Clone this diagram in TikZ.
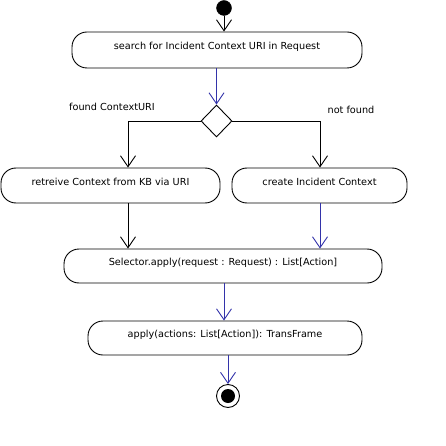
\documentclass[tikz,border=0pt]{standalone}
\usepackage{fontspec}
\setmainfont{DejaVu Sans}
\usetikzlibrary{arrows.meta, shapes.geometric}

\definecolor{flowblue}{RGB}{51,51,170}

\tikzset{
    activity/.style={draw, line width=0.9pt, rounded corners=15pt, align=center,
        font=\fontsize{9.7}{11}\selectfont, text depth=8pt, inner sep=0pt},
    decision/.style={draw, line width=0.9pt, diamond, minimum width=31pt,
        minimum height=32pt, inner sep=0pt},
    flow/.style={line width=0.9pt, -{Straight Barb[length=11pt, width=15pt]}},
    guard/.style={font=\fontsize{9.7}{11}\selectfont}
}

\begin{document}
\begin{tikzpicture}[x=1pt, y=-1pt]
    \useasboundingbox (0,0) rectangle (445,446);

    % Start / end
    \node[circle, fill=black, draw, minimum size=15pt, inner sep=0pt] (start) at (224,8) {};
    \node[circle, draw, line width=0.9pt, minimum size=23pt, inner sep=0pt] (end) at (228,396) {};
    \fill (end) circle (7pt);

    % Activities
    \node[activity, minimum width=290pt, minimum height=36pt] (search) at (217,50)
        {search for Incident Context URI in Request};
    \node[decision] (dec) at (216.5,121) {};
    \node[activity, minimum width=219pt, minimum height=35pt] (retrieve) at (110.5,185.5)
        {retreive Context from KB via URI};
    \node[activity, minimum width=175pt, minimum height=35pt] (create) at (319.5,185.5)
        {create Incident Context};
    \node[activity, minimum width=318pt, minimum height=34pt] (select) at (223,266)
        {Selector.apply(request : Request) : List[Action]};
    \node[activity, minimum width=274pt, minimum height=34pt] (apply) at (225,338)
        {apply(actions: List[Action]): TransFrame};

    % Guards
    \node[guard] (found) at (112,107) {found ContextURI};
    \node[guard] (notfound) at (351,110) {not found};

    \coordinate (xl) at (128,0);
    \coordinate (xr) at (320,0);

    % Flows
    \draw[flow] (start.south) -- (start.south |- search.north);
    \draw[flow, flowblue] (search.south -| dec.north) -- (dec.north);
    \draw[flow] (dec.west) -| (retrieve.north -| xl);
    \draw[flow] (dec.east) -| (create.north -| xr);
    \draw[flow] (retrieve.south -| xl) -- (select.north -| xl);
    \draw[flow, flowblue] (create.south -| xr) -- (select.north -| xr);
    \draw[flow, flowblue] (select.south -| 224,0) -- (apply.north -| 224,0);
    \draw[flow, flowblue] (apply.south -| end.north) -- (end.north);
\end{tikzpicture}
\end{document}
